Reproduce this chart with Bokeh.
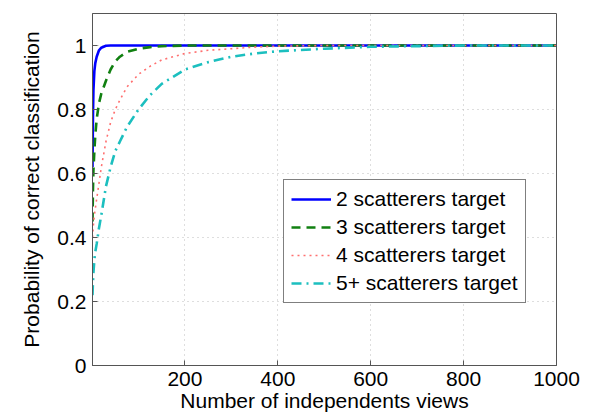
from bokeh.plotting import figure
from bokeh.models import Range1d, FixedTicker, Legend, LegendItem, ColumnDataSource
from bokeh.embed import file_html
from bokeh.resources import INLINE

# Number of independent views (sample points along the curves)
views = [1, 2, 3, 5, 7, 10, 15, 20, 30, 40, 50, 60, 75, 100, 125, 150,
         200, 250, 300, 350, 400, 500, 600, 700, 800, 900, 1000]

# Probability of correct classification for each target class
p_two = [0.62, 0.78, 0.86, 0.92, 0.945, 0.965, 0.985, 0.993, 0.999, 1.0, 1.0,
         1.0, 1.0, 1.0, 1.0, 1.0, 1.0, 1.0, 1.0, 1.0, 1.0, 1.0, 1.0, 1.0, 1.0,
         1.0, 1.0]
p_three = [0.45, 0.55, 0.61, 0.67, 0.72, 0.77, 0.82, 0.85, 0.89, 0.925, 0.95,
           0.965, 0.98, 0.99, 0.995, 0.998, 1.0, 1.0, 1.0, 1.0, 1.0, 1.0, 1.0,
           1.0, 1.0, 1.0, 1.0]
p_four = [0.40, 0.42, 0.44, 0.47, 0.49, 0.52, 0.57, 0.62, 0.70, 0.76, 0.80,
          0.83, 0.87, 0.91, 0.935, 0.955, 0.975, 0.985, 0.99, 0.995, 0.998,
          1.0, 1.0, 1.0, 1.0, 1.0, 1.0]
p_five = [0.22, 0.26, 0.29, 0.33, 0.355, 0.38, 0.43, 0.47, 0.56, 0.62, 0.67,
          0.70, 0.745, 0.80, 0.845, 0.88, 0.925, 0.948, 0.965, 0.975, 0.982,
          0.99, 0.996, 0.998, 1.0, 1.0, 1.0]

series_labels = ["2 scatterers target", "3 scatterers target",
                 "4 scatterers target", "5+ scatterers target"]

x_ticks = [200, 400, 600, 800, 1000]
y_ticks = [0, 0.2, 0.4, 0.6, 0.8, 1]

FONT = "Liberation Sans"

p = figure(width=594, height=417, output_backend="svg", toolbar_location=None,
           x_range=Range1d(1, 1000), y_range=Range1d(0, 1.1),
           min_border_left=92, min_border_right=38, min_border_top=13,
           min_border_bottom=52)

src = ColumnDataSource(dict(x=views, a=p_two, b=p_three, c=p_four, d=p_five))

r_a = p.line("x", "a", source=src, line_color="#0000ff", line_width=2.6)
r_b = p.line("x", "b", source=src, line_color="#118011", line_width=2.6,
             line_dash="9 6")
r_c = p.line("x", "c", source=src, line_color="#ff7070", line_width=1.6,
             line_dash="2 4")
r_d = p.line("x", "d", source=src, line_color="#1cbfbf", line_width=2.6,
             line_dash="10 5 2 5")

legend = Legend(items=[LegendItem(label=series_labels[0], renderers=[r_a]),
                       LegendItem(label=series_labels[1], renderers=[r_b]),
                       LegendItem(label=series_labels[2], renderers=[r_c]),
                       LegendItem(label=series_labels[3], renderers=[r_d])],
                location=(191, 62), orientation="vertical")
legend.border_line_color = "black"
legend.border_line_width = 1
legend.background_fill_color = "white"
legend.background_fill_alpha = 1
legend.label_text_font = FONT
legend.label_text_font_size = "21px"
legend.label_text_color = "black"
legend.glyph_width = 40
legend.glyph_height = 24
legend.label_height = 24
legend.label_standoff = 5
legend.spacing = 4
legend.padding = 7
legend.margin = 0
p.add_layout(legend, "center")

# Axes, MATLAB-style inward ticks
for ax in (p.xaxis[0], p.yaxis[0]):
    ax.major_tick_in = 5
    ax.major_tick_out = 0
    ax.minor_tick_in = 0
    ax.minor_tick_out = 0
    ax.axis_line_color = "#555555"
    ax.major_tick_line_color = "#555555"
    ax.major_label_text_font = FONT
    ax.major_label_text_font_size = "21px"
    ax.major_label_text_color = "black"
    ax.axis_label_text_font = FONT
    ax.axis_label_text_font_size = "21px"
    ax.axis_label_text_font_style = "normal"
    ax.axis_label_text_color = "black"

p.xaxis.ticker = FixedTicker(ticks=x_ticks)
p.yaxis.ticker = FixedTicker(ticks=y_ticks)
p.yaxis.major_label_overrides = {0: "0", 0.2: "0.2", 0.4: "0.4", 0.6: "0.6",
                                 0.8: "0.8", 1: "1"}
p.xaxis.axis_label = "Number of independents views"
p.yaxis.axis_label = "Probability of correct classification"
p.xaxis.major_label_standoff = 6
p.xaxis.axis_label_standoff = 0
p.yaxis.major_label_standoff = 6
p.yaxis.axis_label_standoff = 11

p.xgrid.grid_line_color = "#bdbdbd"
p.ygrid.grid_line_color = "#bdbdbd"
p.xgrid.grid_line_dash = "1 4"
p.ygrid.grid_line_dash = "1 4"
p.xgrid.grid_line_width = 1
p.ygrid.grid_line_width = 1

p.outline_line_color = "#555555"
p.outline_line_width = 1
p.background_fill_color = "white"
p.border_fill_color = "white"

open("out.html", "w").write(file_html(p, INLINE))
